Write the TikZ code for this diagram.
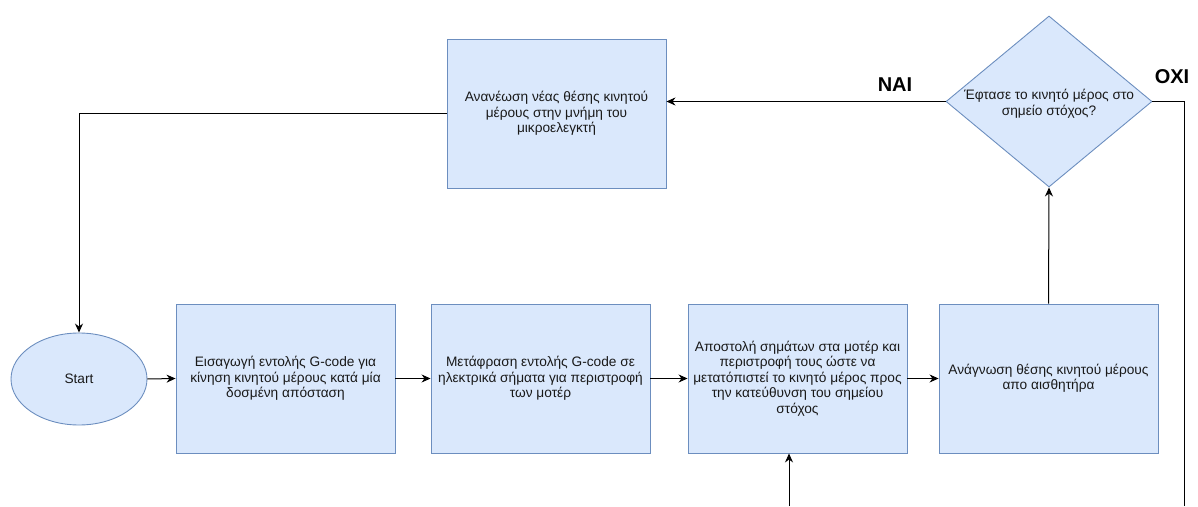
\documentclass[tikz,border=0pt]{standalone}
\usepackage{fontspec}
\setmainfont{Liberation Sans}
\usetikzlibrary{shapes.geometric,arrows.meta}
\definecolor{boxfill}{HTML}{DAE8FC}
\definecolor{boxline}{HTML}{6C8EBF}
\begin{document}
\begin{tikzpicture}[x=1pt,y=1pt,
  every node/.style={font=\fontsize{13.7}{15.5}\selectfont, text=black!90, align=center},
  stepbox/.style={draw=boxline, fill=boxfill, line width=0.9pt, rectangle,
    minimum width=219pt, minimum height=149pt, inner sep=0pt},
  startnode/.style={draw=boxline, fill=boxfill, line width=0.9pt, ellipse,
    minimum width=136pt, minimum height=92pt, inner sep=0pt},
  decision/.style={draw=boxline, fill=boxfill, line width=0.9pt, diamond,
    minimum width=206pt, minimum height=171pt, inner sep=0pt, shape aspect=1.2},
  flow/.style={draw=black, line width=1pt, -{Stealth[length=9pt,width=8pt]}},
  plain/.style={draw=black, line width=1pt},
  answer/.style={font=\fontsize{20}{23}\selectfont\bfseries, text=black}]
\useasboundingbox (0,0) rectangle (1198,506);

% process steps along the bottom row
\node[startnode] (start) at (79,127) {Start};
\node[stepbox] (b1) at (285.5,127.5) {Εισαγωγή εντολής G-code για\\κίνηση κινητού μέρους κατά μία\\δοσμένη απόσταση};
\node[stepbox] (b2) at (540.5,127.5) {Μετάφραση εντολής G-code σε\\ηλεκτρικά σήματα για περιστροφή\\των μοτέρ};
\node[stepbox] (b3) at (797.5,127.5) {Αποστολή σημάτων στα μοτέρ και\\περιστροφή τους ώστε να\\μετατόπιστεί το κινητό μέρος προς\\την κατεύθυνση του σημείου\\στόχος};
\node[stepbox] (b4) at (1048.5,127.5) {Ανάγνωση θέσης κινητού μέρους\\απο αισθητήρα};

% update step and the decision on top
\node[stepbox] (upd) at (556.5,392.5) {Ανανέωση νέας θέσης κινητού\\μέρους στην μνήμη του\\μικροελεγκτή};
\node[decision] (dia) at (1049,404.5) {};
\node at (1049,402) {Έφτασε το κινητό μέρος στο\\σημείο στόχος?};

\node[answer] (yes) at (895,421) {ΝΑΙ};
\node[answer] (no) at (1172,429) {ΟΧΙ};

% loose ends of the loop leaving the bottom edge
\coordinate (noend) at (1184,0);
\coordinate (loopin) at (789,0);

% connectors
\draw[flow] (start.east) -- (b1.west);
\draw[flow] (b1.east) -- (b2.west);
\draw[flow] (b2.east) -- (b3.west);
\draw[flow] (b3.east) -- (b4.west);
\draw[flow] (b4.north) -- (dia.south);
\draw[flow] (dia.west) -- (upd.east |- dia.west);
\draw[plain] (dia.east) -| (noend);
\draw[flow] (loopin) -- (loopin |- b3.south);
\draw[flow] (upd.west) -| (start.north);
\end{tikzpicture}
\end{document}
